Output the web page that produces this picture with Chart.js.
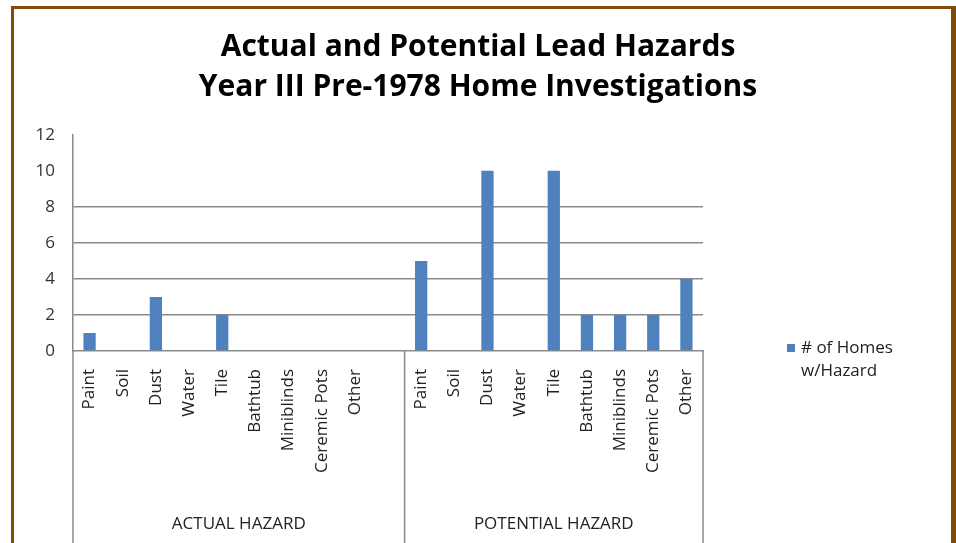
<!DOCTYPE html>
<html>
<head>
<meta charset="utf-8">
<script src="https://cdn.jsdelivr.net/npm/chart.js@4.4.1/dist/chart.umd.min.js"></script>
<style>
  html, body { margin: 0; padding: 0; background: #ffffff; }
  #wrap { position: relative; width: 956px; height: 543px; overflow: hidden; background: #fff; }
  #c { position: absolute; left: 0; top: 0; }
  #frame { position: absolute; left: 11px; top: 6px; width: 937px; height: 600px;
           border-left: 3px solid #804c08; border-top: 3px solid #804c08; border-right: 5px solid #804c08;
           pointer-events: none; }
</style>
</head>
<body>
<div id="wrap">
  <canvas id="c" width="956" height="543"></canvas>
  <div id="frame"></div>
</div>
<script>
// ---- data ----
const categories = ["Paint", "Soil", "Dust", "Water", "Tile", "Bathtub", "Miniblinds", "Ceremic Pots", "Other"];
const groups = ["ACTUAL HAZARD", "POTENTIAL HAZARD"];
const actualHazard = [1, 0, 3, 0, 2, 0, 0, 0, 0];
const potentialHazard = [5, 0, 10, 0, 10, 2, 2, 2, 4];
const seriesName = "# of Homes w/Hazard";
const yTicks = [0, 2, 4, 6, 8, 10, 12];
const gridValues = [2, 4, 6, 8];

// build table: group 1 has a trailing blank row (as in the source sheet)
const labels = [...categories, "", ...categories];
const values = [...actualHazard, null, ...potentialHazard];
const secondGroupStart = categories.length + 1;

const AXIS = '#8a8a8a';
const FONT = "'Open Sans', 'Liberation Sans', sans-serif";

const groupPlugin = {
  id: 'groups',
  afterDraw(chart) {
    const { ctx, chartArea, scales } = chart;
    const x = scales.x;
    const bottom = chart.height;
    const half = (x.getPixelForValue(1) - x.getPixelForValue(0)) / 2;
    ctx.save();
    ctx.strokeStyle = AXIS;
    ctx.lineWidth = 1.5;
    const bounds = [chartArea.left, x.getPixelForValue(secondGroupStart) - half, chartArea.right];
    bounds.forEach(bx => {
      ctx.beginPath();
      ctx.moveTo(bx, chartArea.bottom);
      ctx.lineTo(bx, bottom);
      ctx.stroke();
    });
    // group labels
    ctx.fillStyle = '#222';
    ctx.font = "17px " + FONT;
    ctx.textAlign = 'center';
    ctx.textBaseline = 'middle';
    groups.forEach((g, i) => {
      ctx.fillText(g, (bounds[i] + bounds[i + 1]) / 2, chartArea.bottom + 173);
    });
    // legend
    const lx = chartArea.right + 84;
    const ly = chartArea.bottom - 3;
    ctx.fillStyle = '#4f81bd';
    ctx.fillRect(lx, ly - 4, 8, 8);
    ctx.fillStyle = '#222';
    ctx.textAlign = 'left';
    ctx.font = "17px " + FONT;
    const words = seriesName.split(' ');
    ctx.fillText(words.slice(0, 3).join(' '), lx + 14, ly);
    ctx.fillText(words.slice(3).join(' '), lx + 14, ly + 23);
    ctx.restore();
  }
};

new Chart(document.getElementById('c'), {
  type: 'bar',
  data: {
    labels: labels,
    datasets: [{
      label: seriesName,
      data: values,
      backgroundColor: '#4f81bd',
      borderWidth: 0,
      barPercentage: 1,
      categoryPercentage: 0.37
    }]
  },
  options: {
    responsive: false,
    animation: false,
    devicePixelRatio: 1,
    layout: { padding: { left: 20, right: 20, top: 0, bottom: 0 } },
    plugins: {
      legend: { display: false },
      tooltip: { enabled: false },
      title: {
        display: true,
        text: ["Actual and Potential Lead Hazards", "Year III Pre-1978 Home Investigations"],
        color: '#000',
        font: { family: "'Open Sans', Lato, sans-serif", size: 30, weight: 'bold', lineHeight: 1.33 },
        padding: { top: 28, bottom: 27 }
      }
    },
    scales: {
      y: {
        min: 0, max: 12,
        afterBuildTicks: s => { s.ticks = yTicks.map(v => ({ value: v })); },
        afterFit: s => { s.width = 53; },
        ticks: { color: '#333', font: { family: FONT, size: 17 }, padding: 18 },
        grid: {
          drawTicks: false,
          lineWidth: 1.5,
          color: c => gridValues.includes(c.tick && c.tick.value) ? AXIS : 'rgba(0,0,0,0)'
        },
        border: { display: true, color: AXIS, width: 1.5 }
      },
      y2: {
        type: 'linear',
        position: 'right',
        afterFit: s => { s.width = 233; },
        ticks: { display: false },
        grid: { display: false, drawTicks: false },
        border: { display: false }
      },
      x: {
        afterFit: s => { s.height = 192; },
        ticks: { color: '#222', font: { family: FONT, size: 17 }, minRotation: 90, maxRotation: 90, autoSkip: false, padding: 18 },
        grid: { display: false, drawTicks: false },
        border: { display: true, color: AXIS, width: 1.5 }
      }
    }
  },
  plugins: [groupPlugin]
});
</script>
</body>
</html>
